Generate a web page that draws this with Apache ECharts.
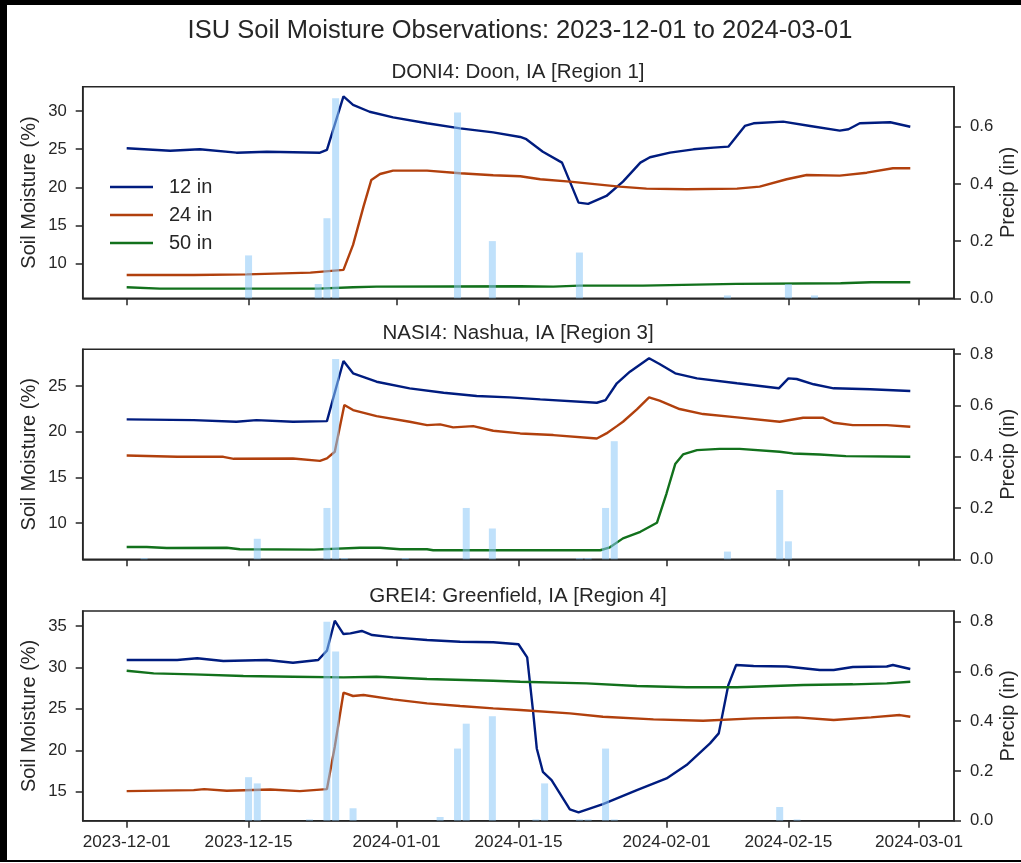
<!DOCTYPE html>
<html>
<head>
<meta charset="utf-8">
<title>ISU Soil Moisture Observations</title>
<script src="https://cdn.jsdelivr.net/npm/echarts@6/dist/echarts.min.js"></script>
<style>
  html, body { margin: 0; padding: 0; background: #fff; }
  #main { position: absolute; left: 0; top: 0; width: 1021px; height: 863px; }
  .frame { position: absolute; background: #000; }
</style>
</head>
<body>
<div id="main"></div>
<div class="frame" style="left:0;top:0;width:7px;height:862px"></div>
<div class="frame" style="left:0;top:0;width:1021px;height:5px"></div>
<div class="frame" style="left:0;top:860px;width:1021px;height:2px"></div>
<script>
// data: [day since 2023-12-01, value]
const dateTicks = ['2023-12-01', '2023-12-15', '2024-01-01', '2024-01-15', '2024-02-01', '2024-02-15', '2024-03-01'];
const seriesNames = ['12 in', '24 in', '50 in'];
const stationTitles = ['DONI4: Doon, IA [Region 1]', 'NASI4: Nashua, IA [Region 3]', 'GREI4: Greenfield, IA [Region 4]'];

// Doon
const doon12 = [[0,25.12],[5,24.8],[8.4,24.98],[12.6,24.54],[16.1,24.67],[22.2,24.54],[23,24.9],[24.9,31.9],[26,30.79],[27.9,29.9],[30.6,29.17],[34.5,28.39],[38.3,27.73],[42.1,27.2],[45.2,26.6],[45.9,26.3],[47.8,24.67],[50,23.24],[51.9,18.0],[53,17.83],[55.1,18.87],[57,20.75],[59,23.24],[60.1,23.94],[62.4,24.54],[65.1,24.98],[67.4,25.2],[69.1,25.33],[71,28.04],[72,28.39],[75.4,28.6],[78.5,28.04],[81.9,27.42],[82.9,27.6],[84.2,28.39],[87.7,28.52],[90,27.94]];
const doon24 = [[0,8.53],[7.7,8.53],[13.8,8.6],[21.1,8.83],[24.9,9.19],[26,12.46],[27.2,17.47],[28.1,20.97],[29.1,21.75],[30.6,22.19],[34.5,22.19],[38.3,21.84],[42.1,21.58],[45.2,21.45],[47.5,21.06],[50.9,20.75],[56.6,20.09],[59.7,19.83],[64.3,19.75],[70.1,19.83],[72.7,20.09],[75.8,21.06],[78.1,21.62],[81.9,21.53],[85,21.92],[88,22.5],[90,22.5]];
const doon50 = [[0,6.92],[3.8,6.74],[22,6.74],[26,6.92],[28.7,7.0],[45.2,7.05],[49,7.0],[52,7.13],[59.3,7.13],[70,7.36],[82,7.45],[85.5,7.57],[90,7.57]];
const doonPrecip = [[14,0.15],[22,0.05],[23,0.28],[24,0.70],[38,0.65],[42,0.20],[52,0.16],[69,0.01],[76,0.05],[79,0.01]];

// Nashua
const nashua12 = [[0,21.35],[7.7,21.27],[12.6,21.09],[14.9,21.27],[19.1,21.09],[23,21.16],[24.9,27.74],[26,26.39],[28.7,25.47],[32.5,24.74],[36.4,24.27],[40.2,23.9],[44,23.76],[47.5,23.54],[54,23.17],[55,23.46],[56.3,25.3],[57.8,26.57],[60,28.04],[61.2,27.41],[63,26.39],[65.5,25.84],[70.1,25.3],[74.9,24.75],[76,25.84],[76.95,25.77],[78.9,25.19],[81.2,24.75],[85.4,24.64],[90,24.45]];
const nashua24 = [[0,17.4],[5.8,17.25],[11.1,17.25],[12.3,17.03],[19.1,17.07],[22.2,16.81],[23,17.07],[23.9,17.8],[25,22.92],[26,22.37],[28.7,21.71],[32.5,21.09],[34.5,20.72],[36,20.8],[37.5,20.47],[39.8,20.61],[42.1,20.1],[45.2,19.81],[49,19.63],[54,19.26],[55.1,19.81],[56.3,20.61],[57,21.09],[58.6,22.45],[60,23.76],[61.2,23.39],[63.5,22.48],[66.2,21.93],[70.1,21.57],[75,21.09],[77.7,21.52],[80,21.52],[81.2,20.98],[83.4,20.72],[87.3,20.72],[90,20.54]];
const nashua50 = [[0,7.38],[2.3,7.38],[4.6,7.27],[11.5,7.3],[13,7.13],[21.5,7.09],[26.8,7.3],[29.1,7.3],[31.4,7.13],[34.5,7.13],[35.2,7.02],[54.4,7.02],[55.5,7.34],[57,8.32],[59,9.04],[60.9,10.03],[62,13.23],[63,16.45],[63.9,17.51],[65.5,17.98],[68.1,18.12],[70.4,18.12],[75,17.8],[76.5,17.62],[79.6,17.51],[82.6,17.32],[90,17.25]];
const nashuaPrecip = [[2,0.005],[15,0.08],[23,0.20],[24,0.78],[25,0.005],[32,0.005],[39,0.20],[42,0.12],[52,0.005],[53,0.005],[55,0.20],[56,0.46],[69,0.03],[75,0.27],[76,0.07]];

// Greenfield
const green12 = [[0,30.89],[5.8,30.89],[8.1,31.1],[11.1,30.77],[16.1,30.89],[19.1,30.57],[22,30.89],[23,32.02],[23.9,35.64],[24.9,34.03],[25.7,34.11],[27,34.4],[28.2,33.91],[30.6,33.63],[34.5,33.31],[38.3,33.1],[42.1,33.03],[45,32.8],[46,31.22],[46.7,24.45],[47.1,20.22],[47.8,17.4],[48.8,16.4],[50.9,12.86],[51.9,12.5],[54.7,13.5],[58.6,15.19],[62,16.6],[64.3,18.21],[67,20.83],[68,22.04],[69.1,27.87],[70,30.29],[72,30.17],[75.8,30.11],[79.6,29.69],[81.2,29.69],[83.4,30.05],[87.3,30.11],[88,30.29],[90,29.81]];
const green24 = [[0,15.07],[7.7,15.19],[8.9,15.31],[11.5,15.11],[16.5,15.27],[19.9,15.07],[23,15.31],[23.9,20.42],[24.9,26.95],[26,26.55],[27.2,26.67],[30.6,26.15],[34.5,25.66],[38.3,25.34],[42.1,25.06],[45.2,24.86],[50.9,24.45],[54.7,24.05],[60.5,23.73],[66.2,23.56],[72,23.85],[77,23.97],[81.2,23.65],[85.5,23.97],[88.8,24.25],[90,24.05]];
const green50 = [[0,29.6],[3.1,29.28],[7.7,29.16],[13.4,28.96],[19.1,28.88],[24.9,28.8],[28.7,28.88],[34.5,28.6],[42.1,28.4],[45.2,28.27],[52.8,28.08],[58.6,27.75],[64.3,27.6],[70.1,27.6],[77.7,27.87],[83.4,27.96],[87.3,28.08],[90,28.27]];
const greenPrecip = [[14,0.175],[15,0.15],[21,0.005],[23,0.80],[24,0.68],[26,0.05],[36,0.015],[38,0.29],[39,0.39],[42,0.42],[47,0.005],[48,0.15],[52,0.005],[53,0.005],[55,0.29],[56,0.005],[75,0.055],[77,0.005]];

// axis ranges and ticks
const soilRanges = [[5.47, 33.18], [6.03, 29.02], [11.5, 36.81]];
const soilTicks = [[10, 15, 20, 25, 30], [10, 15, 20, 25], [15, 20, 25, 30, 35]];
const precipMax = [0.74, 0.818, 0.843];
const precipTicks = [[0, 0.2, 0.4, 0.6], [0, 0.2, 0.4, 0.6, 0.8], [0, 0.2, 0.4, 0.6, 0.8]];
const dayRange = [-5.05, 95.02];

const panels = [
  { lines: [doon12, doon24, doon50], precip: doonPrecip },
  { lines: [nashua12, nashua24, nashua50], precip: nashuaPrecip },
  { lines: [green12, green24, green50], precip: greenPrecip }
];

const INK = '#262626';
const FONT = "'Liberation Sans', Arial, sans-serif";
const lineColors = ['#001c7f', '#b1400d', '#12711c'];
const barColor = 'rgba(140,200,248,0.55)';

// x axis is "days since 2023-12-01"; labels are turned back into dates
const DAY = 86400000;
const t0 = Date.UTC(2023, 11, 1);
const tickDays = dateTicks.map(s => {
  const [y, m, d] = s.split('-').map(Number);
  return Math.round((Date.UTC(y, m - 1, d) - t0) / DAY);
});
const pad = n => (n < 10 ? '0' : '') + n;
const fmtDate = v => {
  const d = new Date(t0 + v * DAY);
  return d.getUTCFullYear() + '-' + pad(d.getUTCMonth() + 1) + '-' + pad(d.getUTCDate());
};

const gridBox = [
  { top: 86.7, height: 211.6 },
  { top: 349.3, height: 210 },
  { top: 611, height: 209.7 }
];
const titleY = [72, 333, 596];

const axisLine = { show: true, onZero: false, lineStyle: { color: INK, width: 1.5 } };
const tickStyle = { color: INK, width: 1.5 };

const grid = [], xAxis = [], yAxis = [], series = [], graphic = [];

graphic.push({
  type: 'text', x: 520, y: 31,
  style: {
    text: 'ISU Soil Moisture Observations: 2023-12-01 to 2024-03-01',
    fontSize: 25.5, fontFamily: FONT, fill: INK,
    align: 'center', verticalAlign: 'middle'
  }
});

panels.forEach((p, i) => {
  grid.push({
    left: 82.7, right: 67, top: gridBox[i].top, height: gridBox[i].height,
    outerBoundsMode: 'none', containLabel: false,
    show: true, borderColor: INK, borderWidth: 1.5, backgroundColor: 'transparent'
  });
  graphic.push({
    type: 'text', x: 518, y: titleY[i],
    style: {
      text: stationTitles[i], fontSize: 20.5, fontFamily: FONT, fill: INK,
      align: 'center', verticalAlign: 'middle'
    }
  });
  xAxis.push({
    type: 'value', gridIndex: i,
    min: dayRange[0], max: dayRange[1],
    axisLine: axisLine,
    axisTick: { show: true, length: 7, customValues: tickDays, lineStyle: tickStyle },
    axisLabel: {
      show: i === 2, customValues: tickDays, formatter: fmtDate,
      fontSize: 17.2, fontFamily: FONT, color: INK, margin: 13
    },
    splitLine: { show: false }
  });
  yAxis.push({
    type: 'value', gridIndex: i, position: 'left',
    min: soilRanges[i][0], max: soilRanges[i][1],
    name: 'Soil Moisture (%)', nameLocation: 'middle', nameGap: 43, nameRotate: 90,
    nameMoveOverlap: false,
    nameTextStyle: { fontSize: 20, fontFamily: FONT, color: INK },
    axisLine: axisLine,
    axisTick: { show: true, length: 7, customValues: soilTicks[i], lineStyle: tickStyle },
    axisLabel: { customValues: soilTicks[i], fontSize: 16.7, fontFamily: FONT, color: INK, margin: 16 },
    splitLine: { show: false }
  });
  yAxis.push({
    type: 'value', gridIndex: i, position: 'right',
    min: 0, max: precipMax[i],
    name: 'Precip (in)', nameLocation: 'middle', nameGap: 44, nameRotate: 90,
    nameMoveOverlap: false,
    nameTextStyle: { fontSize: 20, fontFamily: FONT, color: INK },
    axisLine: axisLine,
    axisTick: { show: true, length: 7, customValues: precipTicks[i], lineStyle: tickStyle },
    axisLabel: {
      customValues: precipTicks[i], formatter: v => v.toFixed(1),
      fontSize: 16.7, fontFamily: FONT, color: INK, margin: 16
    },
    splitLine: { show: false }
  });
  p.lines.forEach((arr, k) => {
    series.push({
      name: seriesNames[k], type: 'line',
      xAxisIndex: i, yAxisIndex: 2 * i,
      data: arr,
      showSymbol: false, symbol: 'none',
      color: lineColors[k],
      itemStyle: { color: lineColors[k] },
      lineStyle: { color: lineColors[k], width: 2.4 },
      z: 2
    });
  });
  series.push({
    name: 'Precip', type: 'bar',
    xAxisIndex: i, yAxisIndex: 2 * i + 1,
    data: p.precip,
    barWidth: 7,
    itemStyle: { color: barColor },
    z: 3
  });
});

const chart = echarts.init(document.getElementById('main'));
chart.setOption({
  animation: false,
  backgroundColor: '#fff',
  legend: {
    data: seriesNames, orient: 'vertical', left: 110, top: 177, padding: 0,
    icon: 'rect', itemWidth: 43, itemHeight: 2.5, itemGap: 8,
    selectedMode: false,
    textStyle: { fontSize: 20, fontFamily: FONT, color: INK, padding: [0, 0, 0, 11] }
  },
  grid: grid,
  xAxis: xAxis,
  yAxis: yAxis,
  series: series,
  graphic: graphic
});
</script>
</body>
</html>
